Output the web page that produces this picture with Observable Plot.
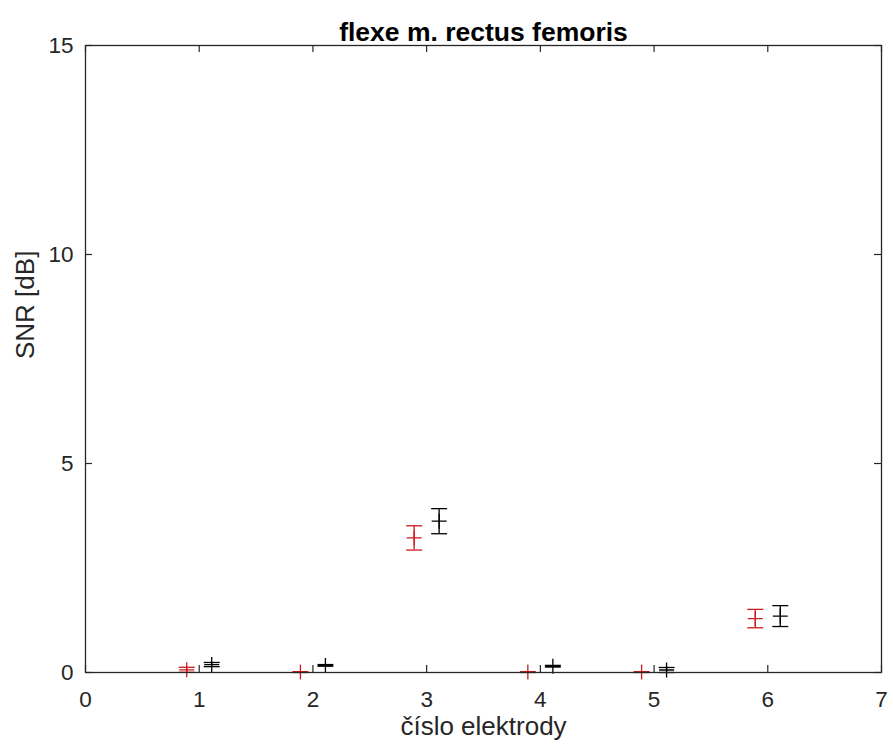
<!DOCTYPE html>
<html>
<head>
<meta charset="utf-8">
<script src="https://cdn.jsdelivr.net/npm/d3@7"></script>
<script src="https://cdn.jsdelivr.net/npm/@observablehq/plot@0.6"></script>
<style>
  html, body { margin: 0; padding: 0; background: #ffffff; }
  #chart { width: 893px; height: 753px; }
</style>
</head>
<body>
<div id="chart"></div>
<script>
// ---- data ----
const electrodes = [1, 2, 3, 4, 5, 6];
const redMean  = [0.065, 0.01, 3.22, 0.01, 0.01, 1.29];
const redErr   = [0.06, 0.01, 0.29, 0.01, 0.01, 0.22];
const blackMean = [0.19, 0.17, 3.62, 0.15, 0.06, 1.35];
const blackErr  = [0.05, 0.02, 0.30, 0.02, 0.06, 0.25];
const xTicks = [0, 1, 2, 3, 4, 5, 6, 7];
const yTicks = [0, 5, 10, 15];
const titleText = "flexe m. rectus femoris";
const xLabel = "číslo elektrody";
const yLabel = "SNR [dB]";

// ---- build table ----
const red = electrodes.map((e, i) => ({electrode: e, mean: redMean[i], err: redErr[i]}));
const black = electrodes.map((e, i) => ({electrode: e, mean: blackMean[i], err: blackErr[i]}));

// ---- layout ----
const W = 893, H = 753;
const mL = 85, mR = 12, mT = 45, mB = 81;
const plotW = W - mL - mR, plotH = H - mT - mB;
const tickLen = 7;
const axisColor = "#262626";
const redColor = "#cc1a1f";
const blackColor = "#000000";
const offset = 12.5;

// custom line symbols
const plusSymbol = {
  draw(ctx, size) {
    const r = Math.sqrt(size / Math.PI);
    ctx.moveTo(-r, 0); ctx.lineTo(r, 0);
    ctx.moveTo(0, -r); ctx.lineTo(0, r);
  }
};
const capSymbol = {
  draw(ctx, size) {
    const r = Math.sqrt(size / Math.PI);
    ctx.moveTo(-r, 0); ctx.lineTo(r, 0);
  }
};

function seriesMarks(data, color, dx) {
  return [
    Plot.ruleX(data, {x: "electrode", y1: d => d.mean - d.err, y2: d => d.mean + d.err, stroke: color, strokeWidth: 1.3, dx}),
    Plot.dot(data, {x: "electrode", y: d => d.mean - d.err, symbol: capSymbol, r: 8, stroke: color, fill: "none", strokeWidth: 1.3, dx}),
    Plot.dot(data, {x: "electrode", y: d => d.mean + d.err, symbol: capSymbol, r: 8, stroke: color, fill: "none", strokeWidth: 1.3, dx}),
    Plot.dot(data, {x: "electrode", y: "mean", symbol: plusSymbol, r: 7.5, stroke: color, fill: "none", strokeWidth: 1.3, dx})
  ];
}

const fmt = d3.format("d");

const chart = Plot.plot({
  width: W,
  height: H,
  marginLeft: mL,
  marginRight: mR,
  marginTop: mT,
  marginBottom: mB,
  x: {domain: [0, 7]},
  y: {domain: [0, 15]},
  style: {
    fontFamily: "'Liberation Sans', Arial, Helvetica, sans-serif",
    fontSize: "22px",
    color: axisColor,
    background: "#ffffff",
    overflow: "visible"
  },
  marks: [
    // inward tick marks (bottom, top, left, right)
    Plot.ruleX(xTicks, {x: d => d, insetTop: plotH - tickLen, stroke: axisColor, strokeWidth: 1.2}),
    Plot.ruleX(xTicks, {x: d => d, insetBottom: plotH - tickLen, stroke: axisColor, strokeWidth: 1.2}),
    Plot.ruleY(yTicks, {y: d => d, insetRight: plotW - tickLen, stroke: axisColor, strokeWidth: 1.2}),
    Plot.ruleY(yTicks, {y: d => d, insetLeft: plotW - tickLen, stroke: axisColor, strokeWidth: 1.2}),
    // tick labels
    Plot.axisX({ticks: xTicks, tickFormat: fmt, tickSize: 0, tickPadding: 19, fontSize: 22.5, label: null, fill: axisColor}),
    Plot.axisY({ticks: yTicks, tickFormat: fmt, tickSize: 0, tickPadding: 12, fontSize: 22.5, label: null, fill: axisColor}),
    // data
    ...seriesMarks(red, redColor, -offset),
    ...seriesMarks(black, blackColor, offset),
    // box
    Plot.frame({stroke: axisColor, strokeWidth: 1.3}),
    // title and axis labels
    Plot.text([titleText], {frameAnchor: "top", dy: -23, fontSize: 26.5, fontWeight: "bold", fill: "#000000"}),
    Plot.text([xLabel], {frameAnchor: "bottom", dy: 62, fontSize: 26, fill: axisColor}),
    Plot.text([yLabel], {frameAnchor: "left", dx: -60, rotate: -90, fontSize: 26, fill: axisColor})
  ]
});

document.getElementById("chart").appendChild(chart);
</script>
</body>
</html>
